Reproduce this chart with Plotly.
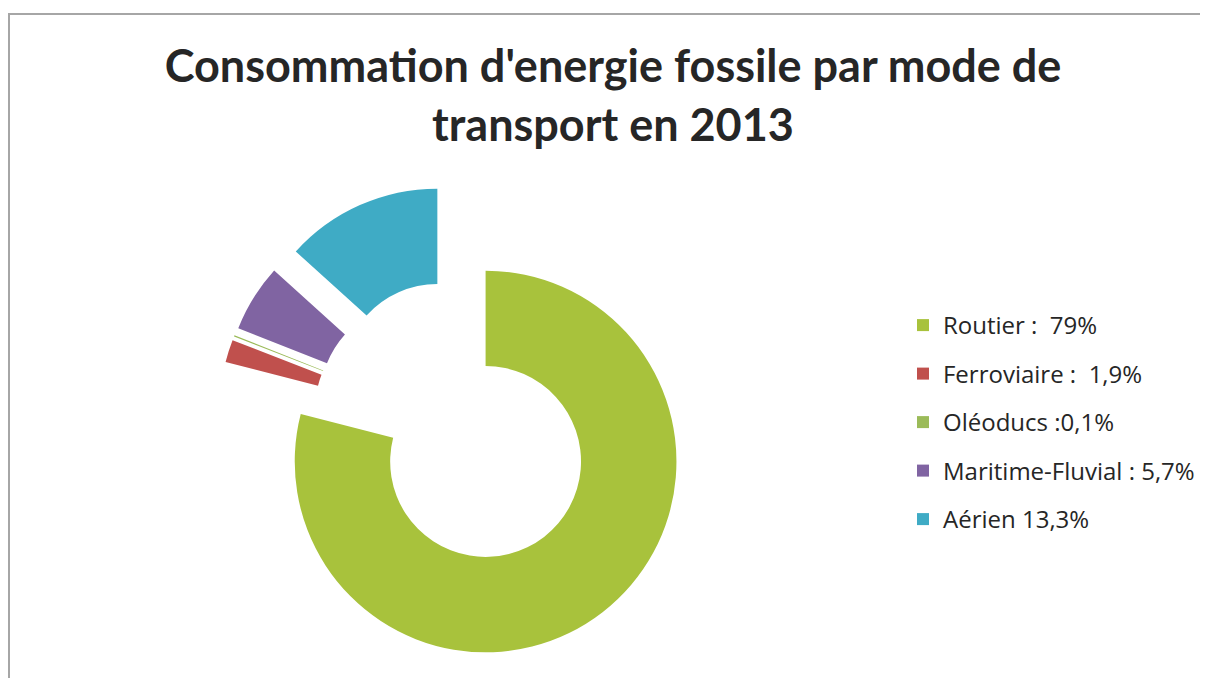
import plotly.graph_objects as go

# ---- data ----
categories = ["Routier :\u00a0 79%", "Ferroviaire :\u00a0 1,9%", "Oléoducs :0,1%",
              "Maritime-Fluvial : 5,7%", "Aérien 13,3%"]
values = [79, 1.9, 0.1, 5.7, 13.3]
colors = ["#A8C23C", "#C0504D", "#9BBB59", "#8064A2", "#3FABC5"]
title_text = "Consommation d'energie fossile par mode de<br>transport en 2013"

# ---- layout / style (pixels, figure coordinates; page adds an 8px body margin) ----
W, H = 1192, 670
R = 191.5                      # outer radius of the ring
center = (479.2, 453.5)        # centre of the un-exploded ring
# offset of each slice's centre (exploded slices)
offsets = [(0, 0), (-75.4, -52.1), (-73.9, -55.9), (-70.1, -63.0), (-48.4, -82.0)]


def domain_for(cx, cy, r):
    return dict(x=[(cx - r) / W, (cx + r) / W],
                y=[1 - (cy + r) / H, 1 - (cy - r) / H])


fig = go.Figure()

# legend entries (tiny pies hidden under the ring band)
for i, (lab, val, col) in enumerate(zip(categories, values, colors)):
    fig.add_trace(go.Pie(
        labels=[lab], values=[val], marker=dict(colors=[col], line=dict(width=0)),
        domain=domain_for(center[0], center[1] + 140, 1),
        textinfo="none", hoverinfo="skip", sort=False,
        legendgroup=f"g{i}", showlegend=True,
    ))

# one ring per slice, each drawn at its own centre
for i, (dx, dy) in enumerate(offsets):
    cols = ["rgba(0,0,0,0)"] * len(values)
    cols[i] = colors[i]
    fig.add_trace(go.Pie(
        labels=categories, values=values,
        marker=dict(colors=cols, line=dict(width=0)),
        hole=0.5, sort=False, direction="clockwise", rotation=0,
        domain=domain_for(center[0] + dx, center[1] + dy, R),
        textinfo="none", showlegend=False,
    ))

fig.update_layout(
    width=W, height=H,
    margin=dict(l=0, r=0, t=0, b=0),
    paper_bgcolor="white", plot_bgcolor="white",
    title=dict(text=title_text, x=605 / W, xanchor="center",
               y=1 - 74 / H, yanchor="top",
               font=dict(family="Lato", size=45, color="#262626", weight="bold")),
    legend=dict(x=898 / W, y=1 - 295 / H, xanchor="left", yanchor="top",
                traceorder="grouped", tracegroupgap=14.3,
                font=dict(family="Open Sans", size=24, color="#262626"),
                bgcolor="rgba(0,0,0,0)", itemclick=False, itemdoubleclick=False),
    shapes=[dict(type="rect", xref="paper", yref="paper",
                 x0=1 / W, x1=1.05, y0=-0.05, y1=1 - 6 / H,
                 line=dict(color="#A6A6A6", width=2), layer="below")],
)

fig.write_html("out.html")
